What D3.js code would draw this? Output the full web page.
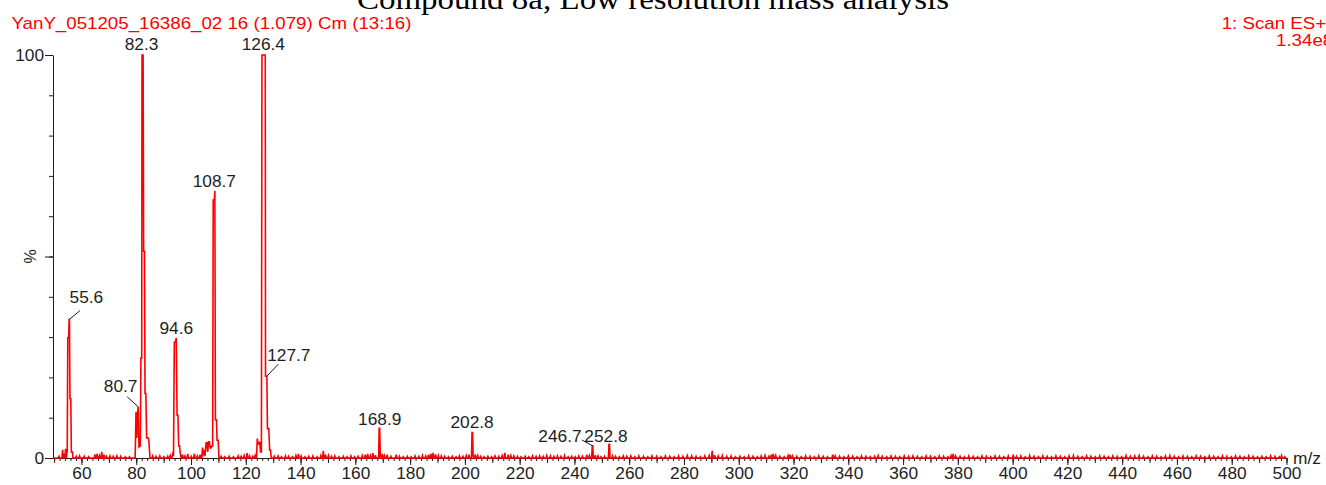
<!DOCTYPE html>
<html>
<head>
<meta charset="utf-8">
<script src="https://cdn.jsdelivr.net/npm/d3@7/dist/d3.min.js"></script>
<style>
  html, body { margin: 0; padding: 0; background: #ffffff; }
  svg { display: block; }
</style>
</head>
<body>
<svg id="chart" width="1326" height="485"></svg>
<script>
// ---- Spectrum data: m/z vs relative intensity (%) ----

// Ion clusters around the main peaks, as [m/z, %] profile points
const clusterLow = [
  [54.8, 1.8], [55.0, 29.8], [55.3, 29.8], [55.5, 34.4], [55.6, 34.4], [55.8, 14.7],
  [56.1, 14.7], [56.3, 1.5], [56.7, 1.5], [56.9, 0]
];
const cluster82 = [
  [79.6, 0], [79.9, 11.5], [80.2, 5], [80.5, 11], [80.7, 12.7], [81.0, 2.7], [81.5, 3],
  [81.7, 24.8], [82.0, 24.8], [82.1, 100], [82.5, 100], [82.7, 51.3], [83.0, 51.3],
  [83.2, 16], [83.5, 16], [83.8, 5], [84.3, 5], [84.6, 4.4], [85.0, 0]
];
const cluster94 = [
  [93.0, 0], [93.3, 1], [93.6, 0.5], [93.9, 28.8], [94.3, 28.8], [94.6, 29.8], [94.9, 10.6],
  [95.2, 10.6], [95.5, 3], [95.8, 3], [96.1, 1], [96.4, 0]
];
const cluster108 = [
  [103.9, 0], [104.2, 2.6], [104.5, 1], [104.8, 1.5], [105.1, 0.5], [105.5, 3.8], [105.8, 3.8],
  [106.1, 1.5], [106.4, 4], [106.7, 4], [107.0, 2.5], [107.3, 2.5], [107.6, 3], [107.9, 3],
  [108.1, 64], [108.5, 64], [108.7, 66.3], [108.9, 9.5], [109.3, 9.5], [109.5, 4.4],
  [109.9, 4.4], [110.2, 0]
];
const cluster126 = [
  [123.9, 0], [124.2, 4.8], [124.5, 3.5], [124.8, 3.5], [125.1, 4], [125.4, 1.5], [125.7, 1.5],
  [125.9, 100], [127.1, 100], [127.2, 20.3], [127.7, 20.3], [127.9, 7.3], [128.4, 7.3],
  [128.7, 2], [129.0, 2], [129.3, 0]
];
const clusterHigh = [
  [168.5, 0], [168.7, 7.4], [168.9, 7.4], [169.1, 0],
  [202.4, 0], [202.6, 6.3], [202.8, 6.3], [203.0, 0.5], [203.2, 0],
  [246.3, 0], [246.5, 3.0], [246.7, 3.0], [246.9, 0],
  [252.4, 0], [252.6, 3.4], [252.8, 3.4], [253.0, 0]
];

// Small baseline ions, [m/z, %]
const minorIons = [
  [51.8, 0.4], [53.1, 2.0], [53.6, 1.0], [54.2, 2.3], [58.1, 0.4], [59.3, 0.5], [61.0, 0.4],
  [62.6, 0.3], [64.9, 0.9], [65.7, 1.0], [66.6, 0.6], [67.4, 1.5], [68.2, 0.8], [69.1, 0.4],
  [70.4, 0.5], [71.6, 0.4], [72.9, 0.5], [74.3, 0.4], [76.0, 0.3], [77.5, 0.3], [86.0, 0.5],
  [87.2, 0.4], [88.6, 0.5], [90.1, 0.3], [91.5, 0.4], [92.4, 0.6], [96.9, 0.8], [97.8, 0.5],
  [98.8, 1.0], [100.1, 0.4], [101.2, 1.0], [102.3, 0.5], [103.3, 0.8], [111.0, 0.4],
  [112.3, 0.3], [113.9, 0.4], [115.5, 0.3], [117.2, 0.5], [118.3, 0.4], [119.4, 0.6],
  [120.5, 1.2], [121.4, 0.5], [122.6, 0.4], [123.4, 0.6], [130.4, 0.4], [131.8, 0.5],
  [133.0, 0.3], [134.5, 0.5], [135.6, 0.4], [137.0, 0.3], [138.3, 0.6], [139.2, 1.0],
  [140.2, 0.5], [141.6, 0.3], [143.0, 0.4], [144.5, 0.5], [146.0, 0.3], [147.4, 0.6],
  [148.3, 1.8], [149.1, 0.8], [150.2, 0.6], [151.3, 0.4], [152.5, 0.5], [154.0, 0.3],
  [155.6, 0.4], [157.0, 0.3], [158.4, 0.5], [159.7, 0.3], [161.0, 0.4], [162.5, 0.6],
  [163.6, 0.8], [164.5, 1.0], [165.5, 0.6], [166.4, 1.2], [167.3, 0.7], [169.8, 1.0],
  [170.6, 0.6], [171.6, 0.8], [173.0, 0.4], [174.9, 0.8], [176.1, 0.4], [177.5, 0.3],
  [179.0, 0.4], [180.4, 0.3], [181.8, 0.5], [183.2, 0.4], [184.5, 0.6], [185.7, 0.5],
  [186.7, 0.8], [187.6, 1.0], [188.4, 1.3], [189.3, 0.9], [190.3, 0.6], [191.4, 0.5],
  [192.6, 0.4], [194.0, 0.3], [195.4, 0.4], [196.8, 0.3], [198.0, 0.5], [199.3, 0.4],
  [200.5, 0.6], [201.5, 0.8], [203.8, 0.9], [204.7, 0.6], [205.8, 0.4], [207.0, 0.3],
  [208.4, 0.4], [209.8, 0.3], [211.0, 0.5], [212.4, 0.4], [213.6, 0.6], [214.6, 1.3],
  [215.8, 0.8], [216.8, 0.6], [217.9, 0.5], [219.2, 0.4], [220.5, 0.3], [222.0, 0.4],
  [223.3, 0.3], [224.7, 0.5], [226.0, 0.4], [227.3, 0.5], [228.6, 0.4], [229.9, 0.6],
  [231.2, 0.5], [232.5, 0.4], [233.8, 0.5], [235.1, 0.4], [236.4, 0.6], [237.7, 0.3],
  [239.0, 0.4], [240.3, 0.3], [241.6, 0.5], [242.9, 0.4], [244.5, 0.8], [245.5, 0.6],
  [247.6, 0.7], [248.6, 0.5], [249.7, 0.3], [251.0, 0.4], [253.9, 0.5], [255.0, 0.4],
  [256.4, 0.3], [257.8, 0.5], [259.1, 0.4], [260.6, 0.5], [262.0, 0.3], [263.5, 0.5],
  [265.2, 0.4], [266.8, 0.3], [268.3, 0.5], [270.0, 0.4], [271.6, 0.3], [273.2, 0.5],
  [274.8, 0.4], [276.4, 0.3], [278.0, 0.5], [279.6, 0.4], [281.2, 0.6], [282.8, 0.5],
  [284.4, 0.4], [286.0, 0.3], [287.6, 0.5], [289.2, 0.6], [290.3, 1.8], [291.2, 0.7],
  [292.5, 0.5], [294.0, 0.6], [295.6, 0.4], [297.2, 0.5], [298.8, 0.3], [300.4, 0.4],
  [302.0, 0.3], [303.6, 0.5], [305.2, 0.4], [306.8, 0.3], [308.2, 0.5], [309.6, 0.6],
  [311.0, 0.4], [311.9, 0.8], [312.6, 1.0], [313.5, 0.6], [315.0, 0.4], [316.6, 0.3],
  [318.0, 0.6], [318.7, 0.8], [319.6, 0.5], [321.2, 0.4], [322.8, 0.3], [324.4, 0.5],
  [326.0, 0.4], [327.6, 0.3], [329.2, 0.5], [330.8, 0.4], [332.4, 0.3], [334.3, 0.8],
  [335.2, 0.5], [336.8, 0.4], [338.4, 0.3], [340.0, 0.5], [341.6, 0.4], [343.2, 0.3],
  [344.8, 0.5], [346.4, 0.4], [348.0, 0.3], [349.6, 0.4], [350.9, 0.6], [352.4, 0.4],
  [354.0, 0.3], [355.6, 0.5], [357.2, 0.4], [358.8, 0.3], [360.4, 0.5], [362.0, 0.4],
  [363.6, 0.5], [365.2, 0.4], [366.8, 0.3], [368.4, 0.5], [370.0, 0.4], [371.6, 0.3],
  [373.2, 0.5], [374.8, 0.4], [376.4, 0.3], [377.5, 0.6], [378.3, 1.0], [379.2, 0.5],
  [380.8, 0.4], [382.4, 0.3], [384.0, 0.5], [385.6, 0.4], [387.2, 0.3], [388.8, 0.5],
  [390.4, 0.4], [392.0, 0.3], [393.6, 0.5], [395.2, 0.4], [396.8, 0.3], [398.4, 0.5],
  [400.2, 0.8], [401.4, 0.4], [403.0, 0.5], [404.6, 0.3], [406.2, 0.6], [407.8, 0.4],
  [409.4, 0.3], [411.0, 0.5], [412.6, 0.4], [414.2, 0.3], [415.8, 0.5], [417.4, 0.4],
  [419.0, 0.3], [420.6, 0.5], [422.2, 0.6], [423.8, 0.4], [425.4, 0.3], [427.0, 0.5],
  [428.6, 0.4], [430.2, 0.3], [431.8, 0.5], [433.4, 0.4], [435.0, 0.3], [436.6, 0.5],
  [438.2, 0.4], [439.8, 0.3], [441.4, 0.6], [443.0, 0.4], [444.6, 0.5], [446.2, 0.6],
  [447.8, 0.4], [449.4, 0.3], [451.0, 0.5], [452.6, 0.4], [454.2, 0.3], [455.8, 0.5],
  [457.4, 0.6], [459.0, 0.4], [460.6, 0.3], [462.2, 0.5], [463.8, 0.4], [465.4, 0.3],
  [467.0, 0.5], [468.6, 0.4], [470.2, 0.3], [471.8, 0.5], [473.4, 0.4], [475.0, 0.3],
  [476.6, 0.5], [478.2, 0.4], [479.8, 0.3], [481.4, 0.5], [483.0, 0.4], [484.6, 0.3],
  [486.2, 0.5], [487.8, 0.4], [489.4, 0.3], [491.0, 0.4], [492.6, 0.3], [494.2, 0.5],
  [495.8, 0.4], [497.4, 0.3], [498.2, 0.6], [499.4, 0.3]
];

// Annotated peaks
const peakMz  = [55.6, 80.7, 82.3, 94.6, 108.7, 126.4, 127.7, 168.9, 202.8, 246.7, 252.8];
const peakPct = [34.4, 12.7, 100, 29.8, 66.3, 100, 20.3, 7.4, 6.3, 3.0, 3.4];

// Axis ticks
const xDomain = [49.6, 500];
const xLabelTicks = d3.range(60, 501, 20);
const yLabelTicks = [0, 100];

// Header texts
const plotTitle = "Compound 8a, Low resolution mass analysis";
const runInfo = "YanY_051205_16386_02 16 (1.079) Cm (13:16)";
const scanInfo = "1: Scan ES+";
const scaleInfo = "1.34e8";

// ---- Drawing ----
const svg = d3.select("#chart");
const RED = "#ff0000";
const INK = "#1e1e1e";
const SANS = "Liberation Sans, Arial, sans-serif";

const x = d3.scaleLinear().domain(xDomain).range([53, 1286.5]);
const y = d3.scaleLinear().domain([0, 100]).range([458, 55]);

// widen a text element horizontally by a factor
function widen(sel, k) {
  sel.each(function () {
    const w = this.getComputedTextLength();
    if (w > 0) d3.select(this).attr("textLength", w * k).attr("lengthAdjust", "spacingAndGlyphs");
  });
  return sel;
}

// title (partly above the page edge)
svg.append("text")
  .attr("x", 653).attr("y", 9)
  .attr("text-anchor", "middle")
  .style("font-family", "Liberation Serif, Times New Roman, serif")
  .style("font-size", "30px")
  .attr("fill", "#000")
  .text(plotTitle)
  .call(widen, 1.1);

svg.append("text")
  .attr("x", 11.5).attr("y", 29.3)
  .style("font-family", SANS).style("font-size", "17px")
  .attr("fill", RED).text(runInfo).call(widen, 1.1);

svg.append("text")
  .attr("x", 1221.7).attr("y", 29.3)
  .style("font-family", SANS).style("font-size", "17px")
  .attr("fill", RED).text(scanInfo).call(widen, 1.1);

svg.append("text")
  .attr("x", 1276).attr("y", 45.5)
  .style("font-family", SANS).style("font-size", "17px")
  .attr("fill", RED).text(scaleInfo).call(widen, 1.1);

// x axis: minor ticks every 2, medium every 10, labelled every 20
const xAxisG = svg.append("g").attr("transform", "translate(0,458)");
function styleAxis(g) {
  g.selectAll("line").attr("stroke", INK);
  g.selectAll("path").attr("stroke", INK);
  g.selectAll("text").attr("fill", INK)
    .style("font-family", SANS).style("font-size", "16px")
    .call(widen, 1.08);
}
xAxisG.append("g").call(d3.axisBottom(x).tickValues(d3.range(50, 501, 2)).tickSize(3).tickFormat("").tickSizeOuter(0)).call(styleAxis);
xAxisG.append("g").call(d3.axisBottom(x).tickValues(d3.range(50, 501, 10)).tickSize(5).tickFormat("").tickSizeOuter(0))
  .call(g => g.select(".domain").remove()).call(styleAxis);
xAxisG.append("g").call(d3.axisBottom(x).tickValues(xLabelTicks).tickSize(7).tickPadding(3).tickFormat(d3.format("d")).tickSizeOuter(0))
  .call(g => g.select(".domain").remove()).call(styleAxis);

svg.append("text")
  .attr("x", 1293).attr("y", 464)
  .style("font-family", SANS).style("font-size", "16px")
  .attr("fill", INK).text("m/z").call(widen, 1.08);

// y axis
const yAxisG = svg.append("g").attr("transform", "translate(53,0)");
yAxisG.append("g").call(d3.axisLeft(y).tickValues(d3.range(0, 101, 10)).tickSize(4).tickFormat("").tickSizeOuter(0)).call(styleAxis);
yAxisG.append("g").call(d3.axisLeft(y).tickValues([0, 50, 100]).tickSize(8).tickPadding(1)
    .tickFormat(d => yLabelTicks.includes(d) ? d : "").tickSizeOuter(0))
  .call(g => g.select(".domain").remove()).call(styleAxis);

svg.append("text")
  .attr("transform", `translate(36,${y(50)}) rotate(-90)`)
  .attr("text-anchor", "middle")
  .style("font-family", SANS).style("font-size", "16px")
  .attr("fill", INK).text("%");

// spectrum trace: clusters plus narrow baseline ions
const halfWidth = 0.25;
const trace = [[xDomain[0], 0]]
  .concat(clusterLow, cluster82, cluster94, cluster108, cluster126, clusterHigh);
minorIons.forEach(([m, p]) => {
  trace.push([m - halfWidth, 0], [m, p], [m + halfWidth, 0]);
});
trace.push([500, 0]);
trace.sort((a, b) => a[0] - b[0]);

svg.append("path")
  .datum(trace)
  .attr("fill", "none")
  .attr("stroke", RED)
  .attr("stroke-width", 1.6)
  .attr("stroke-linejoin", "miter")
  .attr("d", d3.line().x(d => x(d[0])).y(d => y(d[1])));

// peak annotations: label offset from apex, optional leader line
const labelLayout = {
  "55.6":  { dx: 16.9, dy: -16.1, leader: [10.5, -8.7] },
  "80.7":  { dx: -17.5, dy: -15.1, leader: [-11, -10] },
  "82.3":  { dx: -1, dy: -5 },
  "94.6":  { dx: 0, dy: -4 },
  "108.7": { dx: -0.5, dy: -4 },
  "126.4": { dx: 0, dy: -5 },
  "127.7": { dx: 21.9, dy: -15.2, leader: [11.4, -12] },
  "168.9": { dx: 0, dy: -3.5 },
  "202.8": { dx: -0.5, dy: -4.3 },
  "246.7": { dx: -32.8, dy: -4.2, leader: [-11, -6] },
  "252.8": { dx: -3.5, dy: -2.6 }
};

const ann = svg.append("g");
peakMz.forEach((m, i) => {
  const key = m.toFixed(1);
  const lay = labelLayout[key];
  const px = x(m), py = y(peakPct[i]);
  if (lay.leader) {
    ann.append("line")
      .attr("x1", px).attr("y1", py)
      .attr("x2", px + lay.leader[0]).attr("y2", py + lay.leader[1])
      .attr("stroke", INK).attr("stroke-width", 1);
  }
  ann.append("text")
    .attr("x", px + lay.dx).attr("y", py + lay.dy)
    .attr("text-anchor", "middle")
    .style("font-family", SANS).style("font-size", "16px")
    .attr("fill", INK)
    .text(key)
    .call(widen, 1.08);
});
</script>
</body>
</html>
